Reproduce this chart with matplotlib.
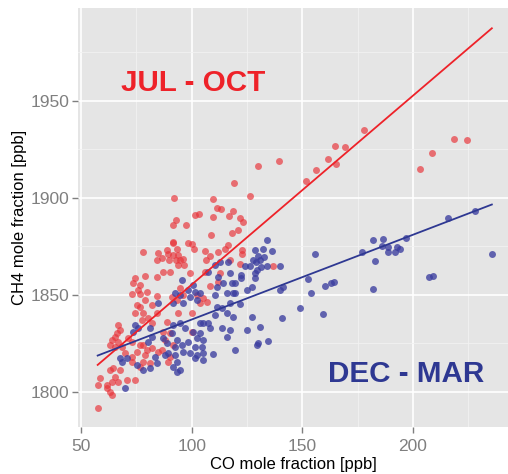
import numpy as np
import matplotlib
matplotlib.use("Agg")
from matplotlib import pyplot as plt
from matplotlib.ticker import MultipleLocator

plt.rcParams['font.family'] = ['Liberation Sans', 'DejaVu Sans']

# JUL - OCT samples (CO, CH4) in ppb
summer_co = [
    130, 139.5, 151.5, 156.3, 161.6, 165.2, 164.8, 169.3, 177.9, 203.2, 208.5, 218.6, 224.6,
    92, 119.3, 126.4, 109.8, 111.3, 113.3, 101.7, 103.3, 91.7, 92.9, 97.3, 109.7, 116.7,
    118.9, 121.9, 123.3, 118.4, 121, 108.6, 91.7, 98.5, 100, 101.1, 93.2, 88.7, 106, 115.1,
    116.6, 108.3, 106.5, 94, 91.7, 96.2, 92.9, 89.9, 96.5, 94, 86.5, 122.6, 122.6, 136.9,
    112, 117.3, 121.9, 78.2, 84.2, 84.9, 91.7, 89.5, 94.7,
    74.4, 78.9, 84.2, 73.6, 76.7, 75.9, 79.7, 72.9, 76.7, 84.2, 78.9, 75.2, 76.7, 81.9,
    74.4, 78.2, 80.4, 77.4, 81.9, 84.2, 66.9, 67.6, 66.1, 65.4, 63.9, 66.9, 63.1, 65.4,
    68.4, 71.4, 72.9, 69.9, 72.9, 75.2, 76.7, 78.2, 79.7, 78.9, 81.9, 84.9, 72.9, 76.7,
    78.2, 81.2, 63.1, 64.6, 67.6, 65.4, 63.9, 66.9, 70.7, 74.4, 61.6, 58.6, 57.8, 61.6,
    63.1, 63.9, 57.5,
    87.2, 90.2, 99.3, 106, 112.8, 94.7, 96.2, 93.2, 91, 102.3, 105.3, 103.8, 94, 100,
    106.8, 112, 88.7, 87.2, 90.2, 100, 88, 91.7, 86.5, 90.2, 89.5, 108.3,
]
summer_ch4 = [
    1916.5, 1918.9, 1908.6, 1914.3, 1920, 1917.4, 1926.6, 1926.1, 1934.7, 1914.9, 1923, 1930.1, 1929.7,
    1900, 1907.4, 1901, 1899.3, 1894.5, 1894.2, 1891.1, 1891.6, 1885.8, 1888.5, 1885.8, 1890.2, 1890.6,
    1893.1, 1889.4, 1887.6, 1882, 1883.3, 1880.6, 1876.8, 1876.5, 1876, 1873.6, 1873.6, 1873, 1872.5, 1873.6,
    1875.6, 1870, 1867.9, 1870.5, 1870.5, 1868.2, 1867.9, 1867.9, 1865.3, 1865.3, 1868.8, 1873, 1870.8, 1864.8,
    1872, 1867.7, 1866, 1872, 1867.7, 1871.5, 1877, 1871, 1868,
    1858.4, 1859.6, 1859.3, 1855.9, 1855, 1852.4, 1851.5, 1850.4, 1850.4, 1849.3, 1847.3, 1844.7, 1843.8, 1844.7,
    1840.4, 1840.4, 1837.8, 1837, 1835.2, 1840.4, 1834.4, 1831.8, 1830.1, 1828.3, 1826.6, 1825.8, 1824.1, 1823.2,
    1823.2, 1827.5, 1825.8, 1819.8, 1818, 1820.6, 1824.1, 1824.1, 1821.5, 1818.9, 1822.4, 1820.6, 1815.5, 1812.9,
    1815.5, 1814.6, 1811.2, 1812, 1811.2, 1807.7, 1805.1, 1805.1, 1806, 1806, 1803.4, 1806.9, 1803.4, 1801.7,
    1800, 1798.3, 1791.4,
    1861.8, 1861.8, 1861, 1861.8, 1861, 1853.3, 1849.8, 1847.3, 1849, 1849.8, 1848.1, 1845.6, 1840.4, 1840.4,
    1846.4, 1856.7, 1836.1, 1830.9, 1830, 1830.9, 1826.6, 1824.1, 1821.5, 1818, 1815.5, 1854.3,
]

# DEC - MAR samples (CO, CH4) in ppb
winter_co = [
    216, 227.9, 235.6, 207.5, 209.1, 182.1, 186.7, 185.9, 188.9, 188.9, 191.9, 192.7, 194.2, 196.9,
    176.8, 182.9, 155.7, 152.7, 160.3, 162.8, 164.3, 153.8, 149, 159.2, 182.1, 133.9, 136.4, 139.9,
    122.3, 122.3, 128.6, 129.4, 128.6, 119.6, 127.1, 119.6, 139.9, 141.4, 127.1, 140.7, 130.9, 134.6,
    130.1, 129.4, 119.6,
    128.6, 132.4, 130.1, 132.8, 127.9, 130.9, 131.3, 124.1, 126.4, 134, 129.1,
    95.5, 100.8, 98.5, 101.5, 103.8, 99.3, 102.3, 94.7, 92.5, 91.7, 96.2, 107.5, 112, 117.3, 114.3,
    118.1, 111.3, 110.6, 115.8, 118.8, 111.3, 113.6, 117.3, 115.8, 110.6, 107.5, 105.3, 103.8, 113.6,
    117.3, 108.3, 100.8, 103.8, 102.3, 105.3, 104.5, 101.5, 98.5, 95.5, 92.5, 93.2, 91, 91.7, 94.7, 97,
    88.7, 89.5, 92.5, 96.2, 99.3, 102.3, 93.2, 91.7, 93.2, 101.5, 105.3, 88, 87.2,
    74.4, 75.9, 73.6, 81.2, 81.9, 80.4, 67.6, 68.4, 70.7, 75.2, 78.2, 81.2, 84.2, 83.4, 69.9, 84.9,
    112.8, 110.6, 116.6, 118.8, 115.8, 109.8, 105.3, 94.7, 124.9, 121.9, 124.9,
]
winter_ch4 = [
    1889.4, 1893.1, 1871.1, 1859.1, 1859.6, 1878.2, 1878.7, 1875.3, 1874.7, 1871.9, 1872.2, 1874.4, 1873.4, 1879.1,
    1872.2, 1867.5, 1871.2, 1858.3, 1854.5, 1855.9, 1856.5, 1851, 1843, 1840, 1852.9, 1878, 1872.5, 1864.6,
    1860.1, 1858.4, 1861.3, 1862.7, 1858.4, 1855.9, 1854.1, 1850.7, 1852.4, 1854.1, 1838.7, 1837.8, 1833.5, 1826.3,
    1825.2, 1824.1, 1821.5,
    1873, 1873.6, 1870, 1869.6, 1867.9, 1867.9, 1864.1, 1864.8, 1864.8, 1864.8, 1867,
    1857.6, 1855, 1852.4, 1851.5, 1850.7, 1849, 1847.3, 1849.8, 1850.7, 1845.6, 1845.6, 1861.8, 1859.3, 1861, 1855.9,
    1855.9, 1854.1, 1849.8, 1850.7, 1850.7, 1843.8, 1843, 1845.6, 1840.4, 1839.5, 1835.2, 1835.2, 1835.2, 1832.7,
    1831.8, 1832.7, 1830.9, 1830, 1827.5, 1826.6, 1823.2, 1823.2, 1825.8, 1824.1, 1823.2, 1826.6, 1830.1, 1834.4, 1835.2, 1832.7,
    1825, 1819.8, 1818.9, 1820.6, 1819.8, 1818.9, 1815.5, 1812.9, 1810.3, 1817.2, 1819.8, 1818.9, 1827.5,
    1834.4, 1832.7, 1830.9, 1832.7, 1828.3, 1825.8, 1817.2, 1815.5, 1817.2, 1813.7, 1811.2, 1812, 1814.6, 1818, 1801.7, 1845.6,
    1866.8, 1865.3, 1866.8, 1838.5, 1828.2, 1819.6, 1816.2, 1811, 1831.6, 1845.3, 1852.3,
]

# linear fits: CH4 = intercept + slope * CO, drawn over the CO range of the data
summer_fit = (1757.8, 0.974)
winter_fit = (1793.5, 0.437)
fit_range = (57.5, 235.7)

red_pts = '#e8343a'
blue_pts = '#3b3d9f'
red_line = '#ee2229'
blue_line = '#2e3892'

fig = plt.figure(figsize=(5.08, 4.74), dpi=100)
ax = fig.add_axes([0.1535, 0.0992, 0.8465, 0.8838])
ax.set_facecolor('#e5e5e5')

ax.scatter(summer_co, summer_ch4, s=25, color=red_pts, alpha=0.68, linewidths=0, zorder=3)
ax.scatter(winter_co, winter_ch4, s=25, color=blue_pts, alpha=0.78, linewidths=0, zorder=3)

xs = np.array(fit_range)
ax.plot(xs, summer_fit[0] + summer_fit[1] * xs, color=red_line, lw=1.3, zorder=4)
ax.plot(xs, winter_fit[0] + winter_fit[1] * xs, color=blue_line, lw=1.3, zorder=4)

ax.text(100.6, 1959, 'JUL - OCT', color=red_line, fontsize=21.3, fontweight='bold',
        ha='center', va='center', zorder=5)
ax.text(196.9, 1809, 'DEC - MAR', color=blue_line, fontsize=21.3, fontweight='bold',
        ha='center', va='center', zorder=5)

ax.set_xlim(48.6, 243)
ax.set_ylim(1781.8, 1997.8)
ax.xaxis.set_major_locator(MultipleLocator(50))
ax.xaxis.set_minor_locator(MultipleLocator(25))
ax.yaxis.set_major_locator(MultipleLocator(50))
ax.yaxis.set_minor_locator(MultipleLocator(25))
ax.grid(which='major', color='white', lw=1.2)
ax.grid(which='minor', color='#f2f2f2', lw=0.6)
ax.set_axisbelow(True)
for s in ax.spines.values():
    s.set_visible(False)
ax.tick_params(which='major', length=4, width=1, color='#7f7f7f',
               labelcolor='#7f7f7f', labelsize=12.5)
ax.tick_params(axis='x', which='major', pad=4.5)
ax.tick_params(axis='y', which='major', pad=2)
ax.tick_params(which='minor', length=0)

ax.set_xlabel('CO mole fraction [ppb]', fontsize=12, labelpad=2)
ax.set_ylabel('CH4 mole fraction [ppb]', fontsize=12, labelpad=3)

fig.savefig('out.png', dpi=100)
